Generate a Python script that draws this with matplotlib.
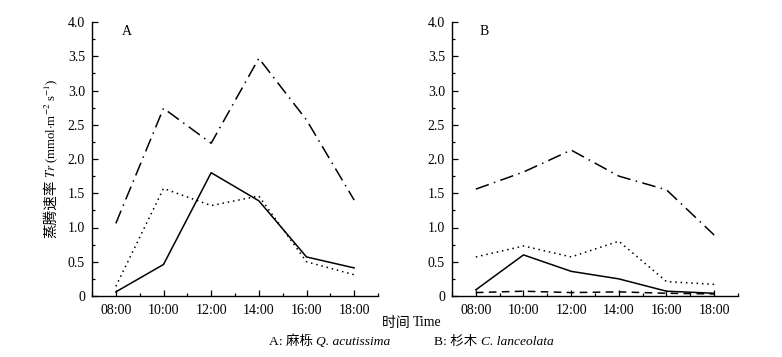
import matplotlib
matplotlib.use("Agg")
import matplotlib.pyplot as plt
from matplotlib.ticker import MultipleLocator, FuncFormatter

plt.rcParams["font.family"] = ["Liberation Serif", "Noto Sans CJK SC", "DejaVu Serif"]
plt.rcParams["mathtext.fontset"] = "stix"

HOURS = [8, 10, 12, 14, 16, 18]
HOUR_LABELS = ["08:00", "10:00", "12:00", "14:00", "16:00", "18:00"]

# panel A: Q. acutissima
A_dashdot = [1.06, 2.74, 2.23, 3.47, 2.57, 1.40]
A_dotted = [0.14, 1.57, 1.32, 1.46, 0.50, 0.31]
A_solid = [0.06, 0.46, 1.80, 1.39, 0.57, 0.41]

# panel B: C. lanceolata
B_dashdot = [1.56, 1.81, 2.13, 1.75, 1.55, 0.89]
B_dotted = [0.57, 0.73, 0.57, 0.80, 0.21, 0.17]
B_solid = [0.09, 0.60, 0.36, 0.25, 0.07, 0.04]
B_dashed = [0.05, 0.07, 0.05, 0.06, 0.04, 0.03]

STYLES = {
    "dashdot": (0, (9, 3.5, 1, 3.5)),
    "dotted": (0, (1, 2.5)),
    "solid": "-",
    "dashed": (0, (5, 3.5)),
}

W, H = 782, 357
FS = 10
fig = plt.figure(figsize=(W / 100, H / 100), dpi=100)


def make_axes(left_px):
    ax = fig.add_axes([left_px / W, 61 / H, 286 / W, 274 / H])
    ax.set_xlim(7, 19)
    ax.set_ylim(0, 4.0)
    for s in ("top", "right"):
        ax.spines[s].set_visible(False)
    for s in ("left", "bottom"):
        ax.spines[s].set_linewidth(1.0)
    ax.set_xticks(HOURS)
    ax.set_xticklabels(HOUR_LABELS)
    ax.xaxis.set_minor_locator(MultipleLocator(1))
    ax.yaxis.set_major_locator(MultipleLocator(0.5))
    ax.yaxis.set_minor_locator(MultipleLocator(0.25))
    ax.yaxis.set_major_formatter(FuncFormatter(lambda v, p: "0" if v == 0 else f"{v:.1f}"))
    ax.tick_params(which="both", direction="in", labelsize=FS, width=0.9)
    ax.tick_params(which="major", length=4.5)
    ax.tick_params(which="minor", length=2.5)
    ax.tick_params(axis="x", pad=6)
    ax.tick_params(axis="y", pad=5)
    return ax


axA = make_axes(92)
axB = make_axes(452)

for ax, series in ((axA, [("dashdot", A_dashdot), ("dotted", A_dotted), ("solid", A_solid)]),
                   (axB, [("dashdot", B_dashdot), ("dotted", B_dotted), ("solid", B_solid),
                          ("dashed", B_dashed)])):
    for name, vals in series:
        ax.plot(HOURS, vals, color="black", lw=1.1, linestyle=STYLES[name],
                clip_on=False)

axA.text(0.105, 0.965, "A", transform=axA.transAxes, fontsize=FS, va="center")
axB.text(0.095, 0.965, "B", transform=axB.transAxes, fontsize=FS, va="center")

# y label: CJK part below, formula part above
fig.text(51 / W, (H - 180) / H, "蒸腾速率", rotation=90, ha="center", va="top",
         fontsize=10.5)
fig.text(51 / W, (H - 178) / H, r"$Tr$ (mmol$\cdot$m$^{-2}$ s$^{-1}$)", rotation=90,
         ha="center", va="bottom", fontsize=9.2)

fig.canvas.draw()
renderer = fig.canvas.get_renderer()


def text_run(x_px, y_px, parts, size=FS):
    """Write text pieces one after another from x_px (figure pixels from left)."""
    x = x_px
    for s, style in parts:
        t = fig.text(x / W, (H - y_px) / H, s, fontsize=size, style=style,
                     ha="left", va="center")
        x = t.get_window_extent(renderer).x1


text_run(382, 323, [("时间 ", "normal"), ("Time", "normal")])
text_run(269, 342, [("A: 麻栎 ", "normal"), ("Q. acutissima", "italic")], size=9.7)
text_run(434, 342, [("B: 杉木 ", "normal"), ("C. lanceolata", "italic")], size=9.7)

fig.savefig("out.png", dpi=100)
